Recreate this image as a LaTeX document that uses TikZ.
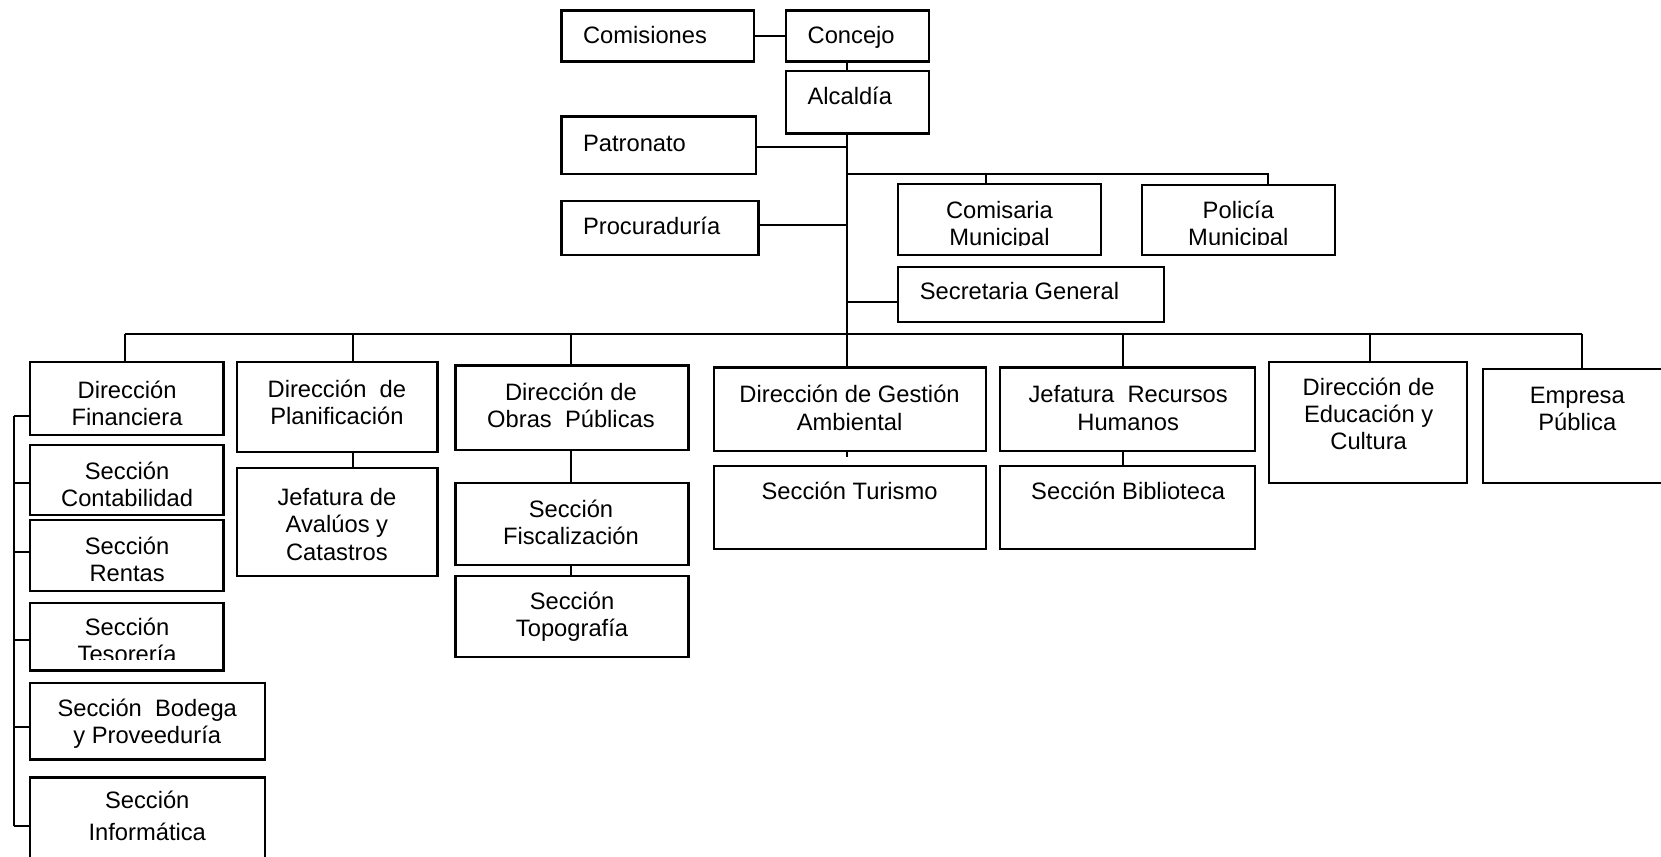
\documentclass[tikz,border=0pt]{standalone}
\usepackage{fontspec}
\setmainfont{Liberation Sans}
\usetikzlibrary{fit}
\newcommand\nxl{\\\strut}
\newcommand\mkbox[5]{\coordinate (#1-a) at (#2,#3); \coordinate (#1-b) at (#4,#5); \node[obox, fit=(#1-a)(#1-b)] (#1) {};}
\begin{document}
\begin{tikzpicture}[x=0.5pt,y=-0.5pt,
  font=\fontsize{11.2}{12.75}\selectfont,
  obox/.style={draw, line width=1.05pt, inner sep=0pt, outer sep=0pt},
  txt/.style={align=center, inner sep=0pt, yshift=-1.4pt, execute at begin node=\strut},
  ltxt/.style={anchor=west, inner sep=0pt, yshift=-1.4pt, execute at begin node=\strut},
  conn/.style={line width=0.95pt}]
\clip (0,0) rectangle (1568,809);
\fill[white] (0,0) rectangle (1568,809);
% boxes
\mkbox{comisiones}{530}{10}{712}{58}
\mkbox{concejo}{742}{10}{877}{58}
\mkbox{alcaldia}{742}{67}{877}{126}
\mkbox{patronato}{530}{110}{714}{164}
\mkbox{procuraduria}{530}{190}{716}{241}
\mkbox{comisaria}{848}{174}{1039}{241}
\mkbox{policia}{1078}{175}{1260}{241}
\mkbox{secretaria}{848}{252}{1099}{304}
\mkbox{financiera}{28}{342}{211}{411}
\mkbox{contabilidad}{28}{420}{211}{486}
\mkbox{rentas}{28}{491}{211}{558}
\mkbox{tesoreria}{28}{569}{211}{633}
\mkbox{bodega}{28}{645}{250}{717}
\mkbox{informatica}{28}{734}{250}{830}
\mkbox{planificacion}{224}{342}{413}{427}
\mkbox{avaluos}{224}{442}{413}{544}
\mkbox{obras}{430}{345}{650}{425}
\mkbox{fiscalizacion}{430}{456}{650}{533}
\mkbox{topografia}{430}{544}{650}{620}
\mkbox{gestion}{674}{347}{931}{426}
\mkbox{turismo}{674}{440}{931}{518}
\mkbox{rrhh}{944}{347}{1185}{426}
\mkbox{biblioteca}{944}{440}{1185}{518}
\mkbox{educacion}{1198}{342}{1385}{456}
\mkbox{empresa}{1400}{348}{1580}{456}
% texts
\node[ltxt] (comisiones-t) at (550,33) {Comisiones};
\node[ltxt] (concejo-t) at (762,33) {Concejo};
\node[ltxt] (alcaldia-t) at (762,91) {Alcaldía};
\node[ltxt] (patronato-t) at (550,135) {Patronato};
\node[ltxt] (procuraduria-t) at (550,213) {Procuraduría};
\node[ltxt] (secretaria-t) at (868,275) {Secretaria General};
\begin{scope}
\clip (848,174) rectangle (1039,232);
\node[txt] (comisaria-t) at (943.5,211.5) {Comisaria\nxl Municipal};
\end{scope}
\begin{scope}
\clip (1078,175) rectangle (1260,231);
\node[txt] (policia-t) at (1169,211.5) {Policía\nxl Municipal};
\end{scope}
\node[txt] (financiera-t) at (120,381.5) {Dirección\nxl Financiera};
\node[txt] (contabilidad-t) at (120,458.5) {Sección\nxl Contabilidad};
\node[txt] (rentas-t) at (120,528.5) {Sección\nxl Rentas};
\begin{scope}
\clip (28,569) rectangle (211,623);
\node[txt] (tesoreria-t) at (120,605.5) {Sección\nxl Tesorería};
\end{scope}
\node[txt] (bodega-t) at (139,682) {Sección\ \ Bodega\nxl y Proveeduría};
\node[txt, font=\fontsize{11.2}{15}\selectfont] (informatica-t) at (139,772) {Sección\nxl Informática};
\node[txt] (planificacion-t) at (318,381) {Dirección\ \ de\nxl Planificación};
\node[txt, font=\fontsize{11.2}{13}\selectfont] (avaluos-t) at (318,496) {Jefatura de\nxl Avalúos y\nxl Catastros};
\node[txt] (obras-t) at (539,383.5) {Dirección de\nxl Obras\ \ Públicas};
\node[txt] (fiscalizacion-t) at (539,494.5) {Sección\nxl Fiscalización};
\node[txt] (topografia-t) at (540,580.5) {Sección\nxl Topografía};
\node[txt, font=\fontsize{11.2}{13.3}\selectfont] (gestion-t) at (802,386.5) {Dirección de Gestión\nxl Ambiental};
\node[txt] (turismo-t) at (802,464) {Sección Turismo};
\node[txt, font=\fontsize{11.2}{13.3}\selectfont] (rrhh-t) at (1065,386.5) {Jefatura\ \ Recursos\nxl Humanos};
\node[txt] (biblioteca-t) at (1065,464) {Sección Biblioteca};
\node[txt] (educacion-t) at (1292,391.7) {Dirección de\nxl Educación y\nxl Cultura};
\node[txt] (empresa-t) at (1489,386.5) {Empresa\nxl Pública};
% connectors
\coordinate (tx) at (800,315);
\draw[conn] (comisiones.east) -- (concejo.west);
\draw[conn] (concejo.south -| tx) -- (alcaldia.north -| tx);
\draw[conn] (alcaldia.south -| tx) -- (tx);
\coordinate (pt) at ([yshift=-1pt]patronato.east);
\draw[conn] (pt) -- (pt -| tx);
\coordinate (pr) at ([yshift=1.75pt]procuraduria.east);
\draw[conn] (pr) -- (pr -| tx);
\coordinate (sg) at ([yshift=-3.5pt]secretaria.west);
\draw[conn] (sg -| tx) -- (sg);
\coordinate (ubL) at (800,164);
\coordinate (ubR) at (1197,164);
\coordinate (cd) at (931,164);
\draw[conn] (ubL) -- (ubR) -- (ubR |- policia.north);
\draw[conn] (cd) -- (cd |- comisaria.north);
\coordinate (bL) at (118,315);
\coordinate (bR) at (1493,315);
\coordinate (d2) at (333,315);
\coordinate (d3) at (539,315);
\coordinate (d5) at (1060,315);
\coordinate (d6) at (1293,315);
\draw[conn] (bL) -- (bR);
\draw[conn] (bL) -- (bL |- financiera.north);
\draw[conn] (d2) -- (d2 |- planificacion.north);
\draw[conn] (d3) -- (d3 |- obras.north);
\draw[conn] (tx) -- (tx |- gestion.north);
\draw[conn] (d5) -- (d5 |- rrhh.north);
\draw[conn] (d6) -- (d6 |- educacion.north);
\draw[conn] (bR) -- (bR |- empresa.north);
\draw[conn] (d2 |- planificacion.south) -- (d2 |- avaluos.north);
\draw[conn] (d3 |- obras.south) -- (d3 |- fiscalizacion.north);
\draw[conn] (d3 |- fiscalizacion.south) -- (d3 |- topografia.north);
\coordinate (gs) at (800,431);
\draw[conn] (tx |- gestion.south) -- (gs);
\draw[conn] (d5 |- rrhh.south) -- (d5 |- biblioteca.north);
\coordinate (k1) at (13,393);
\coordinate (k2) at (13,456);
\coordinate (k3) at (13,521);
\coordinate (k4) at (13,604);
\coordinate (k5) at (13,686);
\coordinate (k6) at (13,780);
\draw[conn] (k1) -- (k6);
\draw[conn] (k1) -- (k1 -| financiera.west);
\draw[conn] (k2) -- (k2 -| contabilidad.west);
\draw[conn] (k3) -- (k3 -| rentas.west);
\draw[conn] (k4) -- (k4 -| tesoreria.west);
\draw[conn] (k5) -- (k5 -| bodega.west);
\draw[conn] (k6) -- (k6 -| informatica.west);
\end{tikzpicture}
\end{document}
